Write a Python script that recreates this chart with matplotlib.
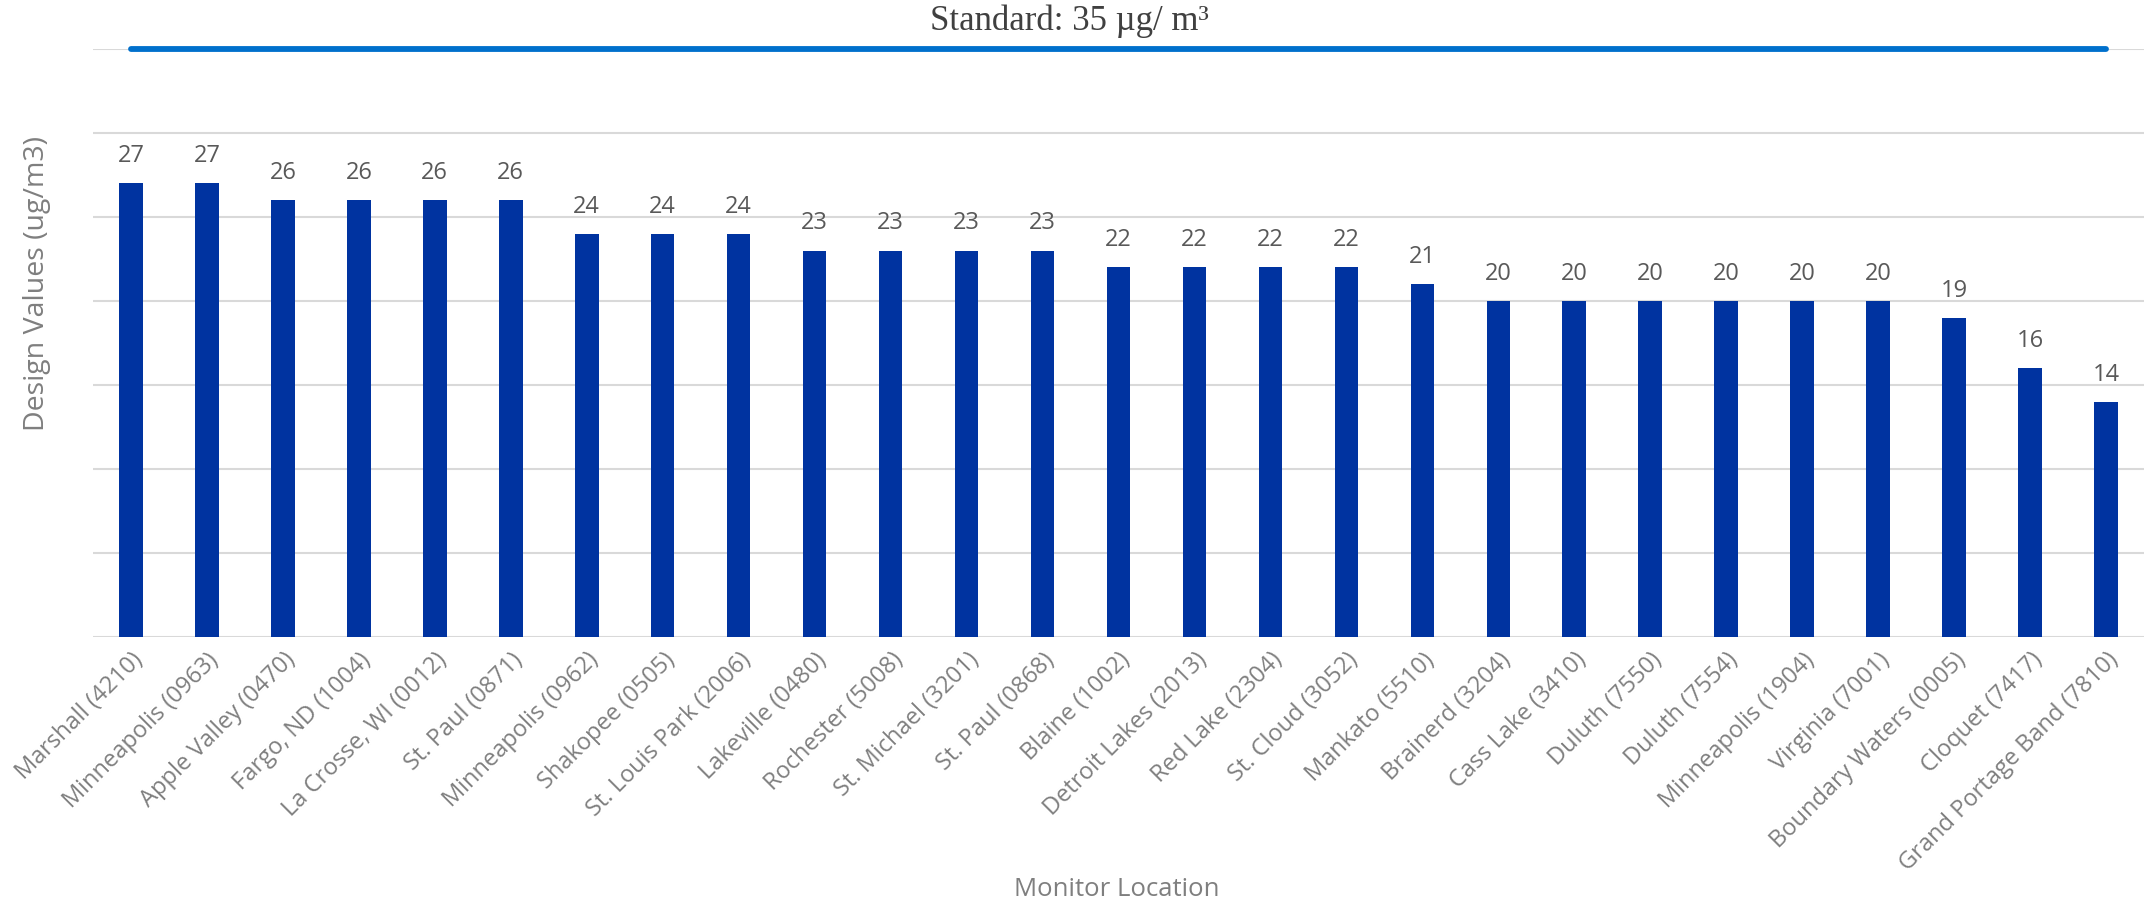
import matplotlib
matplotlib.use("Agg")
import matplotlib.pyplot as plt
import numpy as np

# monitor sites and their PM2.5 design values
locations = [
    "Marshall (4210)", "Minneapolis (0963)", "Apple Valley (0470)", "Fargo, ND (1004)",
    "La Crosse, WI (0012)", "St. Paul (0871)", "Minneapolis (0962)", "Shakopee (0505)",
    "St. Louis Park (2006)", "Lakeville (0480)", "Rochester (5008)", "St. Michael (3201)",
    "St. Paul (0868)", "Blaine (1002)", "Detroit Lakes (2013)", "Red Lake (2304)",
    "St. Cloud (3052)", "Mankato (5510)", "Brainerd (3204)", "Cass Lake (3410)",
    "Duluth (7550)", "Duluth (7554)", "Minneapolis (1904)", "Virginia (7001)",
    "Boundary Waters (0005)", "Cloquet (7417)", "Grand Portage Band (7810)",
]
design_values = [27, 27, 26, 26, 26, 26, 24, 24, 24, 23, 23, 23, 23,
                 22, 22, 22, 22, 21, 20, 20, 20, 20, 20, 20, 19, 16, 14]
standard = 35

BAR = "#0033a0"
LINE = "#0070cc"
GRID = "#d9d9d9"
TXT = "#7f7f7f"
LBL = "#595959"
FONT = "Open Sans"

fig = plt.figure(figsize=(21.47, 9.13), dpi=100)
ax = fig.add_axes([0.0433, 0.3023, 0.9553, 0.644])

x = np.arange(len(locations))
ax.bar(x, design_values, width=0.31, color=BAR, zorder=3)
ax.plot(x, [standard] * len(x), color=LINE, lw=4.2, solid_capstyle="round",
        zorder=4, clip_on=False)

for xi, v in zip(x, design_values):
    ax.annotate(str(v), (xi, v), xytext=(0, 11), textcoords="offset points",
                ha="center", va="bottom", fontsize=17, color=LBL, family=FONT)

ax.set_xlim(-0.5, len(x) - 0.5)
ax.set_ylim(0, 35)
ax.set_yticks(np.arange(0, 36, 5))
ax.set_yticklabels([])
ax.tick_params(axis="y", length=0)
ax.tick_params(axis="x", length=0, pad=8)
ax.set_xticks(x)
ax.set_xticklabels(locations, rotation=45, ha="right", rotation_mode="anchor",
                   fontsize=17, color=TXT, family=FONT)
ax.grid(axis="y", color=GRID, lw=1.5, zorder=0)
ax.set_axisbelow(True)
for s in ax.spines.values():
    s.set_visible(False)

fig.text(0.0172, 0.69, "Design Values (ug/m3)", rotation=90, ha="center",
         va="center", fontsize=20.5, color=TXT, family=FONT)
fig.text(0.52, 0.012, "Monitor Location", ha="center", va="bottom",
         fontsize=18.5, color=TXT, family=FONT)
fig.text(0.498, 0.977, "Standard: 35 µg/ m³", ha="center", va="center",
         fontsize=25, color="#404040", family="Liberation Serif")

fig.savefig("out.png", dpi=100)
